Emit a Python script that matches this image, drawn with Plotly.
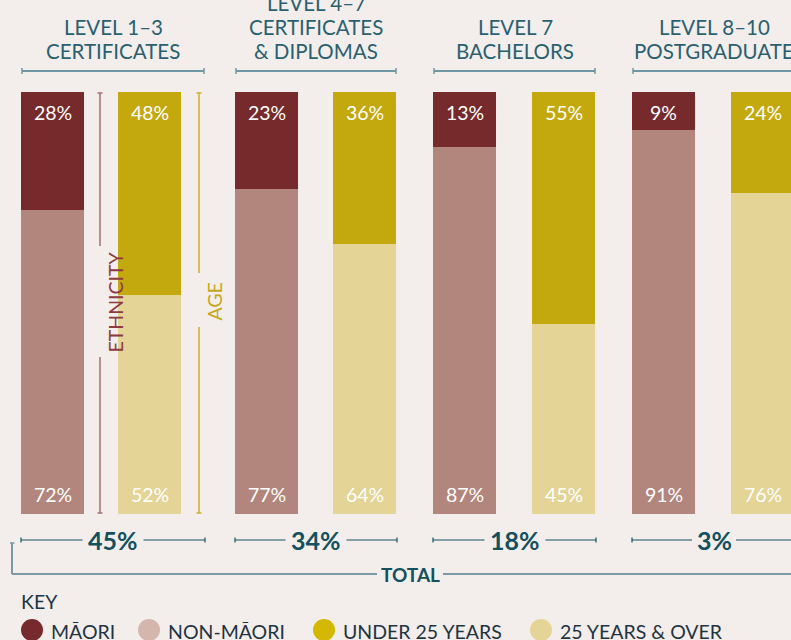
import plotly.graph_objects as go

# ---------------- data ----------------
levels = ["LEVEL 1–3<br>CERTIFICATES",
          "LEVEL 4–7<br>CERTIFICATES<br>& DIPLOMAS",
          "LEVEL 7<br>BACHELORS",
          "LEVEL 8–10<br>POSTGRADUATE"]
maori = [28, 23, 13, 9]
non_maori = [72, 77, 87, 91]
under_25 = [48, 36, 55, 24]
over_25 = [52, 64, 45, 76]
total_share = [45, 34, 18, 3]
key_labels = ["MĀORI", "NON-MĀORI", "UNDER 25 YEARS", "25 YEARS & OVER"]

# ---------------- layout constants ----------------
W, H = 791, 640
BG = "#F3EEEC"
C_MAORI = "#772A2C"
C_NONM = "#B2867C"
C_U25 = "#C4A90E"
C_O25 = "#E4D496"
KEY_COLS = ["#772A2C", "#D4B6AC", "#D4B800", "#E4D496"]
TEAL = "#2A6070"
TEAL_DARK = "#14505E"
LINE_C = "#6F97A3"
FONT = "Lato"

eth_x = [52.5, 266.5, 464.5, 663.5]
age_x = [149.5, 364.5, 563.5, 762.5]
g_left = [21, 235, 433, 632]
g_right = [205, 397, 596, 796]
g_center = [113, 316, 515, 714]
BAR_W = 63
Y0, K = 514, 4.22  # pixel of value 0, pixels per percent


def yp(py):
    return 1 - py / H


def xp(px):
    return px / W


fig = go.Figure()
fig.add_trace(go.Bar(x=eth_x, y=non_maori, width=BAR_W, marker_color=C_NONM,
                     marker_line_width=0, hoverinfo="skip", showlegend=False))
fig.add_trace(go.Bar(x=eth_x, y=maori, width=BAR_W, marker_color=C_MAORI,
                     marker_line_width=0, hoverinfo="skip", showlegend=False))
fig.add_trace(go.Bar(x=age_x, y=over_25, width=BAR_W, marker_color=C_O25,
                     marker_line_width=0, hoverinfo="skip", showlegend=False))
fig.add_trace(go.Bar(x=age_x, y=under_25, width=BAR_W, marker_color=C_U25,
                     marker_line_width=0, hoverinfo="skip", showlegend=False))

ann = []
shapes = []

# bar labels
lab_font = dict(family=FONT, size=19.5, color="white")
for i in range(4):
    for xx, top, bot in ((eth_x[i], maori[i], non_maori[i]),
                         (age_x[i], under_25[i], over_25[i])):
        ann.append(dict(x=xx, y=top + bot, xref="x", yref="y", text=f"{top}%",
                        showarrow=False, yanchor="top", yshift=-7, font=lab_font))
        ann.append(dict(x=xx, y=0, xref="x", yref="y", text=f"{bot}%",
                        showarrow=False, yanchor="bottom", yshift=6, font=lab_font))

# headers: one annotation per line, 24px line step, last line centred at y=51
for i in range(4):
    lines = levels[i].split("<br>")
    n = len(lines)
    for j, ln in enumerate(lines):
        cy = 51 - 24 * (n - 1 - j)
        ann.append(dict(x=g_center[i], y=yp(cy), xref="x", yref="paper",
                        text=ln, showarrow=False, yanchor="middle",
                        font=dict(family=FONT, size=20.5, color=TEAL)))
    l, r = g_left[i] + 1, g_right[i] - 1
    shapes.append(dict(type="line", xref="paper", yref="paper",
                       x0=xp(l), x1=xp(r), y0=yp(71), y1=yp(71),
                       line=dict(color=LINE_C, width=2)))
    for e in (l, r):
        shapes.append(dict(type="line", xref="paper", yref="paper",
                           x0=xp(e), x1=xp(e), y0=yp(68), y1=yp(74),
                           line=dict(color=LINE_C, width=1.5)))

# totals
for i in range(4):
    txt = f"{total_share[i]}%"
    hw = 8.5 * len(txt) - 1
    c = g_center[i]
    ann.append(dict(x=c, y=yp(540), xref="x", yref="paper", text=f"<b>{txt}</b>",
                    showarrow=False, yanchor="middle",
                    font=dict(family=FONT, size=25, color=TEAL_DARK)))
    for a, b in ((g_left[i], c - hw - 6), (c + hw + 6, g_right[i])):
        shapes.append(dict(type="line", xref="paper", yref="paper",
                           x0=xp(a), x1=xp(b), y0=yp(540), y1=yp(540),
                           line=dict(color=TEAL_DARK, width=1.2)))
    for e in (g_left[i], g_right[i]):
        shapes.append(dict(type="line", xref="paper", yref="paper",
                           x0=xp(e), x1=xp(e), y0=yp(537.5), y1=yp(542.5),
                           line=dict(color=TEAL_DARK, width=1.2)))

# TOTAL bracket
TOT_C = "#7A9AA5"
shapes += [
    dict(type="line", xref="paper", yref="paper", x0=xp(12), x1=xp(12), y0=yp(543), y1=yp(574),
         line=dict(color=TOT_C, width=2)),
    dict(type="line", xref="paper", yref="paper", x0=xp(10), x1=xp(14.5), y0=yp(543), y1=yp(543),
         line=dict(color=TOT_C, width=1.5)),
    dict(type="line", xref="paper", yref="paper", x0=xp(12), x1=xp(377), y0=yp(574), y1=yp(574),
         line=dict(color=TOT_C, width=2)),
    dict(type="line", xref="paper", yref="paper", x0=xp(443), x1=xp(800), y0=yp(574), y1=yp(574),
         line=dict(color=TOT_C, width=2)),
]
ann.append(dict(x=xp(410), y=yp(574.5), xref="paper", yref="paper", text="<b>TOTAL</b>",
                showarrow=False, yanchor="middle",
                font=dict(family=FONT, size=19, color=TEAL_DARK)))

# vertical brackets (group 1)
for xx, col, tcol, txt, gap0, gap1, tc in ((100, "#A87477", "#8E3A40", "ETHNICITY", 246, 357, 302),
                                            (199, "#D0B33A", "#C6A818", "AGE", 273, 327, 301)):
    shapes.append(dict(type="line", xref="paper", yref="paper", x0=xp(xx), x1=xp(xx),
                       y0=yp(93), y1=yp(gap0), line=dict(color=col, width=1.6)))
    shapes.append(dict(type="line", xref="paper", yref="paper", x0=xp(xx), x1=xp(xx),
                       y0=yp(gap1), y1=yp(513), line=dict(color=col, width=1.6)))
    for e in (93, 513):
        shapes.append(dict(type="line", xref="paper", yref="paper", x0=xp(xx - 2.5), x1=xp(xx + 2.5),
                           y0=yp(e), y1=yp(e), line=dict(color=col, width=1.6)))
    ann.append(dict(x=xp(xx + 1), y=yp(tc), xref="paper", yref="paper", text=txt, textangle=-90,
                    showarrow=False, font=dict(family=FONT, size=19.5, color=tcol)))

# key
KEY_TXT = "#1E3442"
ann.append(dict(x=xp(19), y=yp(601), xref="paper", yref="paper", text="KEY", showarrow=False,
                xanchor="left", yanchor="middle", font=dict(family=FONT, size=19.5, color=KEY_TXT)))
dot_x = [32, 149, 324, 541]
for i in range(4):
    shapes.append(dict(type="circle", xref="paper", yref="paper",
                       x0=xp(dot_x[i] - 11), x1=xp(dot_x[i] + 11),
                       y0=yp(630 - 11), y1=yp(630 + 11),
                       fillcolor=KEY_COLS[i], line=dict(width=0)))
    ann.append(dict(x=xp(dot_x[i] + 17), y=yp(631), xref="paper", yref="paper", text=key_labels[i],
                    showarrow=False, xanchor="left", yanchor="middle",
                    font=dict(family=FONT, size=19.5, color=KEY_TXT)))

fig.update_layout(
    width=W, height=H,
    margin=dict(l=0, r=0, t=0, b=0),
    paper_bgcolor=BG, plot_bgcolor=BG,
    barmode="stack", bargap=0,
    xaxis=dict(range=[0, W], visible=False, fixedrange=True),
    yaxis=dict(range=[(Y0 - H) / K, Y0 / K], visible=False, fixedrange=True),
    annotations=ann, shapes=shapes,
    showlegend=False,
)

fig.write_html(
    "out.html",
    config={"displayModeBar": False},
    post_script="document.body.style.margin='0';document.body.style.overflow='hidden';",
)
